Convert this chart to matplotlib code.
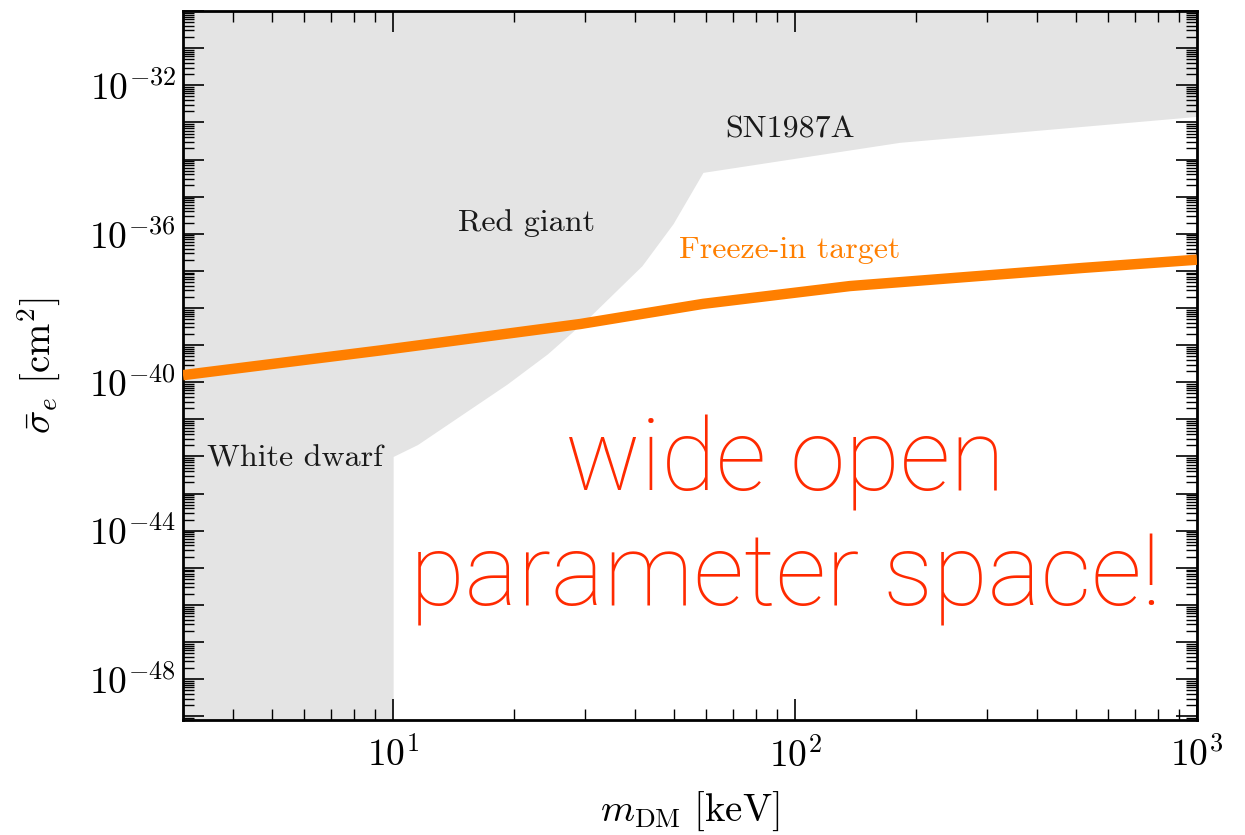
# Freeze-in dark matter: stellar cooling bounds vs. the freeze-in target line.
import math
import matplotlib
matplotlib.use("Agg")
import matplotlib.pyplot as plt
from matplotlib.ticker import FixedLocator, FuncFormatter, NullFormatter

# Computer Modern look for everything except the big annotation.
plt.rcParams["font.family"] = "serif"
plt.rcParams["font.serif"] = ["cmr10"]
plt.rcParams["mathtext.fontset"] = "cm"
plt.rcParams["axes.unicode_minus"] = False

# Freeze-in target: DM mass [keV] and cross section [cm^2].
m_freeze = [3.0, 9.3, 29.2, 59.0, 137.0, 520.0, 1000.0]
sigma_freeze = [1.55e-40, 7.2e-40, 3.7e-39, 1.29e-38, 3.9e-38, 1.2e-37, 2.0e-37]

# Lower edge of the region excluded by white dwarfs, red giants and SN1987A.
m_excl = [3.0, 10.0, 10.0, 11.5, 19.2, 24.2, 30.9, 41.6, 49.7, 59.0, 182.0, 1000.0]
sigma_excl = [1e-50, 1e-50, 1.0e-42, 2.1e-42, 8.9e-41, 5.8e-40, 6.0e-39,
              1.38e-37, 1.86e-36, 4.5e-35, 2.9e-34, 1.45e-33]
sigma_top = 1e-29

# Region labels: text, mass, cross section.
region_names = ["SN1987A", "Red giant", "White dwarf"]
region_m = [97.0, 21.5, 5.7]
region_sigma = [6.3e-34, 2.0e-36, 8.9e-43]

xmin, xmax = 3.0, 1000.0
ymin, ymax = 10 ** -49.1, 1e-30

fig = plt.figure(figsize=(12.45, 8.35), dpi=100)
ax = fig.add_axes([0.147, 0.1377, 0.8144, 0.8491])

ax.fill_between(m_excl, sigma_excl, sigma_top, color="#e4e4e4", linewidth=0, zorder=1)
ax.plot(m_freeze, sigma_freeze, color="#ff7f00", lw=7.5, solid_capstyle="butt", zorder=3)

for name, m, s in zip(region_names, region_m, region_sigma):
    ax.text(m, s, name, fontsize=23, color="#1a1a1a", ha="center", va="center", zorder=4)
ax.text(97.0, 3.5e-37, "Freeze-in target", fontsize=23, color="#ff7f00",
        ha="center", va="center", zorder=4)

# Big annotation in a light sans face.
ax.text(0.594, 0.324, "wide open", transform=ax.transAxes, fontsize=72,
        family="Roboto", fontweight="light", color="#ff2a00", ha="center", va="baseline")
ax.text(0.594, 0.162, "parameter space!", transform=ax.transAxes, fontsize=72,
        family="Roboto", fontweight="light", color="#ff2a00", ha="center", va="baseline")

ax.set_xscale("log")
ax.set_yscale("log")
ax.set_xlim(xmin, xmax)
ax.set_ylim(ymin, ymax)

# one major tick per decade, minor ticks at 2..9
x_major = [10.0 ** e for e in range(1, 4)]
x_minor = [k * 10.0 ** e for e in range(0, 3) for k in range(2, 10) if 3 <= k * 10.0 ** e <= 1000]
y_major = [10.0 ** e for e in range(-49, -29)]
y_minor = [k * 10.0 ** e for e in range(-50, -30) for k in range(2, 10) if ymin <= k * 10.0 ** e <= ymax]
ax.xaxis.set_major_locator(FixedLocator(x_major))
ax.xaxis.set_minor_locator(FixedLocator(x_minor))
ax.yaxis.set_major_locator(FixedLocator(y_major))
ax.yaxis.set_minor_locator(FixedLocator(y_minor))


def x_label(v, pos):
    return r"$10^{%d}$" % round(math.log10(v))


def y_label(v, pos):
    e = round(math.log10(v))
    return r"$10^{%d}$" % e if e % 4 == 0 else ""


ax.xaxis.set_major_formatter(FuncFormatter(x_label))
ax.yaxis.set_major_formatter(FuncFormatter(y_label))
ax.xaxis.set_minor_formatter(NullFormatter())
ax.yaxis.set_minor_formatter(NullFormatter())

ax.tick_params(which="both", direction="in", top=True, right=True, labelsize=27)
ax.tick_params(which="major", length=15, width=1.2)
ax.tick_params(which="minor", length=8, width=1.0)
ax.tick_params(axis="x", which="major", pad=12)
ax.tick_params(axis="y", which="major", pad=5)
for sp in ax.spines.values():
    sp.set_linewidth(2)

ax.set_xlabel(r"$m_{\rm DM}\ [{\rm keV}]$", fontsize=28)
ax.set_ylabel(r"$\bar{\sigma}_e\ [{\rm cm}^2]$", fontsize=28)
ax.xaxis.set_label_coords(0.5, -0.098)
ax.yaxis.set_label_coords(-0.118, 0.5)

fig.savefig("out.png", dpi=100)
